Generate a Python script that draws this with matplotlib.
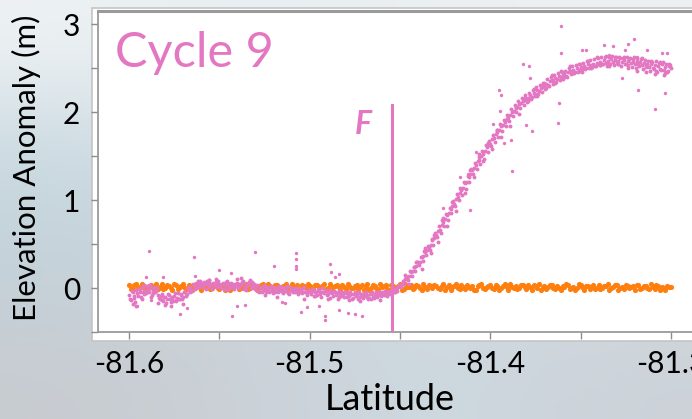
import matplotlib
matplotlib.use("Agg")
from matplotlib import pyplot as plt
from matplotlib.patches import Rectangle
import numpy as np

plt.rcParams['font.family'] = ['Lato', 'DejaVu Sans']

# Elevation anomaly along track, cycle 9 (pink), one sample per 0.001 deg latitude
cycle9_elev = [
    -0.08, -0.14, -0.04, -0.11, -0.02, -0.09, -0.05, 0.01, -0.07, -0.02,
    0.02, -0.04, 0.00, -0.06, 0.01, -0.03, -0.08, -0.12, -0.07, -0.15,
    -0.10, -0.13, -0.08, -0.16, -0.11, -0.09, -0.14, -0.06, -0.12, -0.08,
    -0.10, -0.04, -0.07, -0.02, 0.01, -0.03, 0.03, 0.00, 0.05, 0.02,
    0.06, 0.01, 0.04, 0.08, 0.02, 0.05, -0.01, 0.03, 0.07, 0.02,
    0.04, 0.00, 0.06, 0.03, -0.02, 0.05, 0.01, 0.04, -0.01, 0.02,
    0.06, 0.00, 0.03, 0.08, 0.01, -0.02, 0.04, 0.09, 0.02, 0.05,
    -0.01, 0.03, -0.04, 0.01, -0.02, 0.02, -0.05, -0.01, 0.00, -0.03,
    0.01, -0.04, -0.02, 0.02, -0.03, -0.06, 0.00, -0.02, -0.05, 0.01,
    -0.03, -0.01, -0.05, 0.00, -0.04, -0.02, -0.06, 0.01, -0.03, -0.05,
    -0.02, -0.07, -0.01, -0.04, -0.08, -0.03, -0.05, 0.00, -0.06, -0.03,
    -0.07, -0.02, -0.05, -0.09, -0.04, -0.06, -0.03, -0.08, -0.05, -0.10,
    -0.06, -0.04, -0.09, -0.07, -0.11, -0.05, -0.08, -0.06, -0.10, -0.07,
    -0.09, -0.05, -0.08, -0.11, -0.06, -0.09, -0.07, -0.04, -0.08, -0.06,
    -0.05, -0.08, -0.04, -0.06, -0.03, -0.05, -0.02, -0.04, 0.00, 0.01,
    0.03, 0.05, 0.07, 0.10, 0.12, 0.14, 0.18, 0.19, 0.24, 0.25,
    0.29, 0.30, 0.35, 0.36, 0.41, 0.43, 0.47, 0.49, 0.55, 0.57,
    0.60, 0.65, 0.66, 0.72, 0.75, 0.78, 0.83, 0.85, 0.90, 0.93,
    0.95, 1.01, 1.03, 1.08, 1.11, 1.14, 1.19, 1.21, 1.26, 1.29,
    1.34, 1.36, 1.40, 1.44, 1.45, 1.50, 1.52, 1.56, 1.60, 1.62,
    1.64, 1.69, 1.70, 1.75, 1.77, 1.80, 1.84, 1.85, 1.89, 1.92,
    1.93, 1.97, 2.00, 2.01, 2.05, 2.06, 2.09, 2.10, 2.12, 2.15,
    2.14, 2.16, 2.19, 2.17, 2.22, 2.21, 2.25, 2.24, 2.27, 2.29,
    2.28, 2.32, 2.31, 2.35, 2.36, 2.35, 2.39, 2.38, 2.41, 2.40,
    2.42, 2.44, 2.41, 2.45, 2.47, 2.44, 2.48, 2.46, 2.50, 2.48,
    2.51, 2.49, 2.52, 2.50, 2.54, 2.51, 2.53, 2.55, 2.52, 2.56,
    2.54, 2.57, 2.55, 2.59, 2.56, 2.58, 2.55, 2.60, 2.57, 2.59,
    2.56, 2.58, 2.61, 2.57, 2.59, 2.55, 2.58, 2.60, 2.56, 2.57,
    2.54, 2.58, 2.55, 2.57, 2.53, 2.56, 2.52, 2.55, 2.51, 2.54,
    2.50, 2.53, 2.47, 2.52, 2.49, 2.54, 2.48, 2.51, 2.46, 2.52,
    2.50,
]
cycle9_lat = np.linspace(-81.600, -81.300, len(cycle9_elev))

# interleaved returns between the samples above
cycle9_elev_b = [
    -0.12, -0.03, -0.09, -0.16, -0.06, -0.01, -0.10, -0.04, 0.03, -0.06,
    -0.02, 0.03, -0.08, -0.03, -0.05, 0.00, -0.11, -0.09, -0.14, -0.10,
    -0.17, -0.07, -0.12, -0.10, -0.15, -0.06, -0.11, -0.13, -0.07, -0.12,
    -0.05, -0.09, 0.00, -0.05, -0.02, 0.04, -0.01, 0.06, 0.01, 0.08,
    0.03, 0.07, -0.01, 0.05, 0.09, 0.00, 0.06, 0.04, 0.01, 0.08,
    0.02, 0.05, -0.01, 0.07, 0.03, 0.00, 0.06, 0.02, 0.05, 0.10,
    0.01, 0.04, 0.07, -0.01, 0.05, 0.03, 0.07, 0.00, 0.04, 0.01,
    0.02, -0.03, 0.00, -0.05, 0.03, -0.02, 0.01, -0.04, 0.02, -0.06,
    -0.02, 0.00, -0.05, -0.01, 0.01, -0.04, -0.03, 0.02, -0.07, -0.02,
    -0.05, 0.00, -0.03, -0.07, -0.01, -0.04, 0.00, -0.05, -0.08, -0.02,
    -0.05, -0.03, -0.09, -0.04, -0.01, -0.07, -0.10, -0.04, -0.02, -0.08,
    -0.04, -0.11, -0.06, -0.03, -0.08, -0.12, -0.05, -0.09, -0.07, -0.04,
    -0.10, -0.08, -0.05, -0.12, -0.07, -0.09, -0.13, -0.04, -0.08, -0.11,
    -0.06, -0.10, -0.13, -0.07, -0.04, -0.11, -0.08, -0.10, -0.05, -0.09,
    -0.07, -0.03, -0.08, -0.05, -0.07, -0.02, -0.05, -0.01, -0.03, 0.03,
    0.01, 0.08, 0.05, 0.13, 0.09, 0.19, 0.14, 0.24, 0.19, 0.29,
    0.26, 0.35, 0.31, 0.42, 0.37, 0.48, 0.43, 0.56, 0.49, 0.63,
    0.58, 0.70, 0.63, 0.77, 0.71, 0.84, 0.77, 0.91, 0.85, 0.99,
    0.93, 1.07, 1.00, 1.14, 1.06, 1.21, 1.13, 1.27, 1.20, 1.35,
    1.30, 1.42, 1.35, 1.49, 1.41, 1.56, 1.47, 1.62, 1.55, 1.67,
    1.61, 1.74, 1.66, 1.80, 1.72, 1.86, 1.78, 1.91, 1.84, 1.97,
    1.90, 2.03, 1.95, 2.08, 2.00, 2.12, 2.05, 2.16, 2.08, 2.19,
    2.11, 2.22, 2.15, 2.25, 2.18, 2.28, 2.20, 2.31, 2.23, 2.33,
    2.26, 2.37, 2.29, 2.40, 2.32, 2.42, 2.34, 2.44, 2.36, 2.45,
    2.38, 2.47, 2.40, 2.50, 2.43, 2.52, 2.44, 2.53, 2.46, 2.55,
    2.47, 2.56, 2.49, 2.58, 2.50, 2.59, 2.51, 2.60, 2.52, 2.61,
    2.53, 2.62, 2.54, 2.63, 2.52, 2.62, 2.55, 2.64, 2.53, 2.62,
    2.54, 2.63, 2.52, 2.61, 2.55, 2.63, 2.53, 2.61, 2.51, 2.62,
    2.50, 2.61, 2.52, 2.60, 2.49, 2.59, 2.51, 2.58, 2.47, 2.57,
    2.49, 2.58, 2.45, 2.56, 2.48, 2.57, 2.44, 2.55, 2.47, 2.53,
]
cycle9_lat_b = np.linspace(-81.5995, -81.3005, len(cycle9_elev_b))

# returns spread just off the main profile
spread_lat = [
    -81.447, -81.445, -81.441, -81.438, -81.436, -81.433, -81.431, -81.429,
    -81.426, -81.424, -81.421, -81.419, -81.416, -81.414, -81.411, -81.409,
    -81.406, -81.404, -81.401, -81.399, -81.396, -81.394, -81.391, -81.389,
    -81.386, -81.384, -81.381, -81.379, -81.376, -81.374, -81.371, -81.369,
    -81.366, -81.364, -81.361, -81.359, -81.356, -81.354, -81.351, -81.349,
    -81.346, -81.344, -81.341, -81.339, -81.336, -81.334, -81.331, -81.329,
    -81.326, -81.324, -81.321, -81.319, -81.316, -81.314, -81.311, -81.309,
    -81.306, -81.304, -81.301,
    -81.598, -81.596, -81.593, -81.588, -81.584, -81.580, -81.577, -81.574,
    -81.570, -81.562, -81.556, -81.552, -81.546, -81.538, -81.532, -81.525,
    -81.518, -81.512, -81.503, -81.497, -81.490, -81.484, -81.478, -81.472,
    -81.466, -81.461, -81.457,
]
spread_elev = [
    0.15, 0.05, 0.30, 0.22, 0.45, 0.40, 0.60, 0.52,
    0.80, 0.70, 0.98, 0.88, 1.12, 1.08, 1.34, 1.26,
    1.52, 1.44, 1.65, 1.58, 1.80, 1.72, 1.92, 1.84,
    2.06, 1.98, 2.16, 2.12, 2.26, 2.18, 2.33, 2.27,
    2.42, 2.33, 2.47, 2.40, 2.52, 2.44, 2.55, 2.45,
    2.58, 2.50, 2.62, 2.53, 2.64, 2.52, 2.63, 2.54,
    2.62, 2.50, 2.60, 2.47, 2.61, 2.45, 2.58, 2.43,
    2.57, 2.42, 2.55,
    -0.18, -0.20, -0.13, -0.10, -0.17, -0.19, -0.20, -0.15,
    -0.18, 0.08, 0.09, 0.10, 0.08, 0.11, 0.07, -0.08,
    -0.10, -0.06, -0.12, -0.09, -0.13, -0.10, -0.14, -0.15,
    -0.12, -0.14, -0.09,
]

# scattered returns well off the profile
outlier_lat = [
    -81.589, -81.564, -81.530, -81.5075, -81.5075, -81.5075, -81.5075,
    -81.520, -81.489, -81.550, -81.581, -81.5906, -81.543, -81.572,
    -81.568, -81.4915, -81.4915, -81.505, -81.540, -81.5956, -81.4837,
    -81.471, -81.361, -81.361, -81.382, -81.3785, -81.395, -81.394,
    -81.3946, -81.378, -81.362, -81.3625, -81.377, -81.380, -81.388,
    -81.3924, -81.3885, -81.3987, -81.408, -81.4123, -81.349, -81.347,
    -81.337, -81.332, -81.334, -81.3235, -81.3204, -81.3254, -81.3132,
    -81.305, -81.302, -81.318, -81.309, -81.303, -81.327, -81.3185,
    -81.4112, -81.426, -81.4167, -81.488, -81.486, -81.484, -81.5435,
    -81.5635, -81.5014, -81.479, -81.475, -81.536, -81.495, -81.5153,
    -81.5135, -81.588,
]
outlier_elev = [
    0.42, 0.35, 0.41, 0.40, 0.33, 0.25, 0.22,
    0.25, 0.27, 0.20, 0.12, 0.12, -0.32, -0.30,
    -0.23, -0.32, -0.36, -0.27, -0.20, -0.21, -0.25,
    -0.32, 2.98, 2.67, 2.55, 2.52, 2.25, 2.19,
    2.01, 2.39, 2.10, 1.87, 1.78, 1.85, 1.33,
    1.65, 1.68, 1.86, 1.55, 1.30, 2.70, 2.71,
    2.76, 2.75, 2.65, 2.77, 2.83, 2.71, 2.71,
    2.67, 2.67, 2.25, 2.03, 2.22, 2.39, 2.63,
    0.89, 0.91, 1.26, 0.18, 0.13, 0.16, 0.17,
    0.14, -0.22, -0.28, -0.30, -0.19, -0.20, -0.16,
    -0.17, -0.14,
]

# reference track (orange), two interleaved passes at 0.002 deg spacing
ref_elev = [
    0.03, -0.01, 0.04, 0.00, 0.02, -0.02, 0.03, 0.01, -0.01, 0.04,
    0.00, 0.02, -0.02, 0.03, 0.01, 0.04, -0.01, 0.02, 0.00, 0.03,
    -0.02, 0.01, 0.04, 0.00, 0.02, -0.01, 0.03, 0.01, -0.02, 0.02,
    0.04, 0.00, 0.02, -0.01, 0.03, 0.01, 0.00, 0.04, -0.02, 0.02,
    0.01, 0.03, -0.01, 0.02, 0.00, 0.04, 0.01, -0.02, 0.03, 0.00,
    0.02, -0.01, 0.03, 0.01, 0.04, 0.00, -0.02, 0.02, 0.01, 0.03,
    -0.01, 0.02, 0.00, 0.03, 0.01, -0.02, 0.04, 0.00, 0.02, -0.01,
    0.01, 0.03, -0.02, 0.02, 0.00, 0.04, -0.01, 0.01, 0.03, 0.00,
    0.02, -0.02, 0.01, 0.03, 0.00, 0.02, -0.01, 0.04, 0.01, -0.02,
    0.02, 0.00, 0.03, -0.01, 0.01, 0.02, -0.02, 0.03, 0.00, 0.01,
    0.03, -0.01, 0.02, 0.00, 0.04, -0.02, 0.01, 0.02, 0.00, 0.03,
    -0.01, 0.01, 0.03, 0.00, -0.02, 0.02, 0.01, 0.03, -0.01, 0.00,
    0.02, 0.04, -0.01, 0.01, 0.00, 0.03, -0.02, 0.02, 0.01, -0.01,
    0.03, 0.00, 0.02, -0.02, 0.01, 0.03, 0.00, -0.01, 0.02, 0.01,
    -0.02, 0.03, 0.00, 0.02, -0.01, 0.01, 0.03, -0.02, 0.00, 0.02,
    0.01,
]
ref_lat = np.linspace(-81.600, -81.300, len(ref_elev))

ref_elev_b = [
    -0.01, 0.03, 0.01, 0.05, -0.02, 0.02, 0.00, 0.04, 0.01, -0.01,
    0.03, 0.00, 0.04, -0.01, 0.02, 0.00, 0.03, -0.02, 0.04, 0.01,
    0.02, 0.05, -0.01, 0.03, 0.00, 0.02, -0.02, 0.04, 0.01, 0.03,
    -0.01, 0.02, 0.04, 0.00, 0.01, -0.02, 0.03, 0.01, 0.04, 0.00,
    0.03, -0.01, 0.02, 0.04, 0.01, -0.01, 0.03, 0.00, 0.02, 0.04,
    -0.02, 0.03, 0.00, 0.02, -0.01, 0.04, 0.01, 0.03, -0.02, 0.01,
    0.04, 0.00, 0.02, -0.01, 0.03, 0.01, -0.02, 0.03, 0.00, 0.04,
    0.02, -0.01, 0.03, 0.00, 0.02, -0.02, 0.04, 0.01, -0.01, 0.03,
    0.00, 0.04, -0.01, 0.02, 0.03, 0.00, 0.02, -0.02, 0.03, 0.01,
    0.04, -0.01, 0.01, 0.03, 0.00, -0.02, 0.02, 0.04, -0.01, 0.02,
    0.00, 0.03, -0.02, 0.02, 0.01, 0.04, 0.00, -0.01, 0.03, 0.01,
    0.03, -0.02, 0.02, 0.04, 0.01, -0.01, 0.03, 0.00, 0.02, -0.02,
    0.01, 0.03, 0.00, -0.02, 0.04, 0.01, 0.02, -0.01, 0.03, 0.00,
    -0.01, 0.02, 0.04, 0.00, 0.03, -0.02, 0.01, 0.03, 0.00, 0.02,
    0.03, -0.01, 0.02, 0.00, 0.04, -0.01, 0.02, 0.01, -0.02, 0.01,
]
ref_lat_b = np.linspace(-81.599, -81.301, len(ref_elev_b))

# grounding line marker
f_lat = -81.4545
f_top = 2.08

x_ticks = [-81.6, -81.55, -81.5, -81.45, -81.4, -81.35, -81.3]
x_labels = ['-81.6', '', '-81.5', '', '-81.4', '', '-81.3']
y_ticks = [-0.5, 0, 0.5, 1, 1.5, 2, 2.5, 3]
y_labels = ['', '0', '', '1', '', '2', '', '3']

pink = '#e377c2'
orange = '#ff7f0e'

W, H = 692, 419
fig = plt.figure(figsize=(W / 100, H / 100), dpi=100)

# icy photo-like backdrop
bg_colors = np.array([
    [[238, 242, 244], [232, 238, 241], [236, 240, 243], [238, 241, 243]],
    [[200, 216, 224], [214, 224, 230], [222, 229, 233], [226, 231, 235]],
    [[196, 210, 218], [205, 214, 220], [210, 220, 226], [212, 218, 224]],
    [[200, 204, 209], [203, 209, 215], [206, 218, 226], [204, 210, 216]],
]) / 255.0
bg = fig.add_axes([0, 0, 1, 1])
bg.imshow(bg_colors, extent=[0, 1, 0, 1], aspect='auto', interpolation='bicubic')
bg.axis('off')
bg.set_zorder(-3)

# white card behind the plot
card = Rectangle((92 / W, (H - 341) / H), 1.0, 333 / H,
                 transform=fig.transFigure, facecolor='white',
                 edgecolor='#c4c4c4', lw=1.2, zorder=-2)
fig.add_artist(card)

ax = fig.add_axes([98 / W, (H - 332) / H, 620 / W, 321 / H])
ax.set_zorder(1)
ax.set_facecolor('white')

ax.scatter(ref_lat, ref_elev, s=14, color=orange, lw=0, zorder=2)
ax.scatter(ref_lat_b, ref_elev_b, s=14, color=orange, lw=0, zorder=2)
ax.scatter(cycle9_lat, cycle9_elev, s=8, color=pink, lw=0, zorder=3)
ax.scatter(cycle9_lat_b, cycle9_elev_b, s=8, color=pink, lw=0, zorder=3)
ax.scatter(spread_lat, spread_elev, s=8, color=pink, lw=0, zorder=3)
ax.scatter(outlier_lat, outlier_elev, s=6, color=pink, lw=0, zorder=3)
ax.plot([f_lat, f_lat], [-0.6, f_top], color=pink, lw=2.2, zorder=4)

ax.text(-81.4705, 1.86, 'F', color=pink, fontsize=23, fontweight='bold',
        fontstyle='italic', ha='center', va='center')
ax.text(0.027, 0.868, 'Cycle 9', color=pink, fontsize=35,
        transform=ax.transAxes, ha='left', va='center')

ax.set_xlim(-81.6172, -81.6172 + 620 / 1806)
ax.set_ylim(-0.5, 3.148)
ax.set_xticks(x_ticks)
ax.set_xticklabels(x_labels)
ax.set_yticks(y_ticks)
ax.set_yticklabels(y_labels)
ax.tick_params(direction='out', length=5, width=1, color='#8c8c8c',
               labelsize=21.5, pad=8)

for side in ['left', 'bottom', 'top', 'right']:
    ax.spines[side].set_color('#9a9a9a')
    ax.spines[side].set_linewidth(1.3)
ax.spines['top'].set_linewidth(2.2)

fig.text(26 / W, 1 - 168 / H, 'Elevation Anomaly (m)', rotation=90,
         ha='center', va='center', fontsize=22.5, color='black')
fig.text(390 / W, 1 - 399 / H, 'Latitude', ha='center', va='center',
         fontsize=26, color='black')

plt.savefig('out.png', dpi=100)
